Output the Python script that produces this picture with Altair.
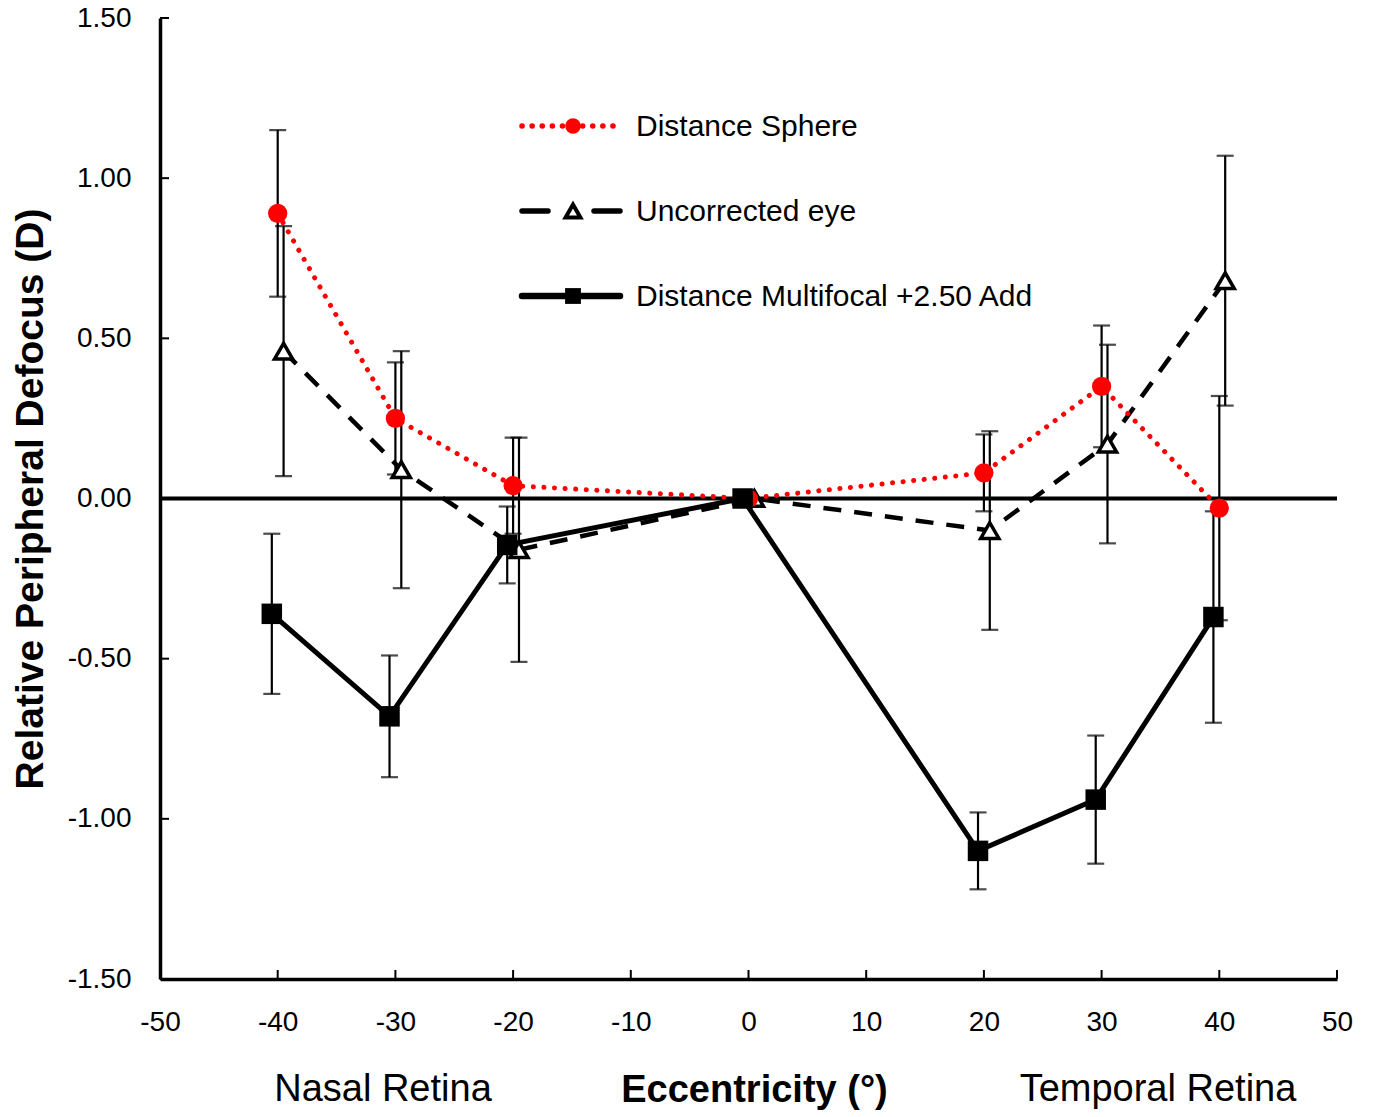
import altair as alt
import pandas as pd

# ---------------- data ----------------
ecc = [-40, -30, -20, 0, 20, 30, 40]

sphere = [0.89, 0.25, 0.04, 0.0, 0.08, 0.35, -0.03]
sphere_err = [0.26, 0.175, 0.15, 0.0, 0.12, 0.19, 0.35]

uncorr = [0.46, 0.09, -0.16, 0.0, -0.10, 0.17, 0.68]
uncorr_err = [0.39, 0.37, 0.35, 0.0, 0.31, 0.31, 0.39]

multi = [-0.36, -0.68, -0.145, 0.0, -1.10, -0.94, -0.37]
multi_err = [0.25, 0.19, 0.12, 0.0, 0.12, 0.20, 0.33]

series_names = ["Distance Sphere", "Uncorrected eye", "Distance Multifocal +2.50 Add"]
series_shift = [0.0, 0.5, -0.5]  # small horizontal offsets of each series as plotted

yticks = [-1.5, -1.0, -0.5, 0.0, 0.5, 1.0, 1.5]
xticks = [-50, -40, -30, -20, -10, 0, 10, 20, 30, 40, 50]

y_title = "Relative Peripheral Defocus (D)"
x_title = "Eccentricity (°)"
side_labels = ["Nasal Retina", "Temporal Retina"]

# ---------------- table ----------------
rows = []
for name, vals, errs, sh in zip(series_names, [sphere, uncorr, multi],
                                [sphere_err, uncorr_err, multi_err], series_shift):
    for e, v, er in zip(ecc, vals, errs):
        rows.append(dict(series=name, ecc=e, x=e + sh, y=v, lo=v - er, hi=v + er, err=er))
df = pd.DataFrame(rows)

FONT = "Liberation Sans"
W, H = 1177, 961

xscale = alt.Scale(domain=[-50, 50], nice=False, zero=False)
yscale = alt.Scale(domain=[-1.5, 1.5], nice=False, zero=False)

xaxis = alt.Axis(
    values=xticks, labelExpr="(datum.value < 0 ? '-' : '') + format(abs(datum.value), 'd')",
    title=x_title, titleFont=FONT, titleFontSize=38, titleFontWeight="bold", titleColor="black",
    titleX=594, titleY=111, titleBaseline="middle", titleAlign="center",
    labelFont=FONT, labelFontSize=28, labelColor="black", labelPadding=29,
    ticks=False, grid=False, domainColor="black", domainWidth=3.5, labelFlush=False,
)
yaxis = alt.Axis(
    values=yticks, labelExpr="(datum.value < 0 ? '-' : '') + format(abs(datum.value), '.2f')",
    title=y_title, titleFont=FONT, titleFontSize=39, titleFontWeight="bold", titleColor="black",
    titleX=-130, titleY=480.5, titleAngle=270, titleBaseline="middle", titleAlign="center",
    labelFont=FONT, labelFontSize=28, labelColor="black", labelPadding=29,
    ticks=False, grid=False, domainColor="black", domainWidth=3.5, labelFlush=False,
)


def X(field):
    return alt.X(f"{field}:Q", scale=xscale, axis=xaxis)


def Y(field):
    return alt.Y(f"{field}:Q", scale=yscale, axis=yaxis)


base = alt.Chart(df)
eb = base.transform_filter("datum.err > 0")

err_rule = eb.mark_rule(color="black", strokeWidth=2.2).encode(x=X("x"), y=Y("lo"), y2="hi:Q")
cap_lo = eb.mark_tick(color="black", orient="horizontal", size=17, thickness=2.2).encode(x=X("x"), y=Y("lo"))
cap_hi = eb.mark_tick(color="black", orient="horizontal", size=17, thickness=2.2).encode(x=X("x"), y=Y("hi"))

zero_line = alt.Chart(pd.DataFrame({"z": [0.0]})).mark_rule(color="black", strokeWidth=4).encode(y=Y("z"))

ytick_layer = alt.Chart(pd.DataFrame({"v": yticks})).mark_rule(color="black", strokeWidth=2).encode(
    y=Y("v"), x=alt.value(0), x2=alt.value(9))
xtick_layer = alt.Chart(pd.DataFrame({"v": xticks})).mark_rule(color="black", strokeWidth=2).encode(
    x=X("v"), y=alt.value(H), y2=alt.value(H - 9))


def sel(name):
    return base.transform_filter(alt.datum.series == name)


line_unc = sel(series_names[1]).mark_line(color="black", strokeWidth=4.5, strokeDash=[18, 13]).encode(
    x=X("x"), y=Y("y"), order="ecc:Q")
line_sph = sel(series_names[0]).mark_line(color="#FF0000", strokeWidth=5, strokeDash=[0.1, 10.5],
                                          strokeCap="round").encode(x=X("x"), y=Y("y"), order="ecc:Q")
line_mul = sel(series_names[2]).mark_line(color="black", strokeWidth=5).encode(
    x=X("x"), y=Y("y"), order="ecc:Q")

pt_unc = sel(series_names[1]).mark_point(shape="triangle-up", size=330, filled=True, fill="white",
                                         stroke="black", strokeWidth=3.5, opacity=1).encode(x=X("x"), y=Y("y"))
pt_sph = sel(series_names[0]).mark_point(shape="circle", size=370, filled=True, color="#FF0000",
                                         opacity=1).encode(x=X("x"), y=Y("y"))
pt_mul = sel(series_names[2]).mark_point(shape="square", size=420, filled=True, color="black",
                                         opacity=1).encode(x=X("x"), y=Y("y"))

# ---------------- legend (drawn inside the plot) ----------------
leg_y = [108, 193, 278]
lx0, lx1, lmk, ltx = 362, 460, 413, 476
one = pd.DataFrame({"k": [0]})

leg = []
leg.append(alt.Chart(one).mark_rule(color="#FF0000", strokeWidth=5.5, strokeDash=[0.1, 10], strokeCap="round").encode(
    x=alt.value(lx0), x2=alt.value(lx1), y=alt.value(leg_y[0])))
leg.append(alt.Chart(one).mark_point(shape="circle", size=240, filled=True, color="#FF0000", opacity=1).encode(
    x=alt.value(lmk), y=alt.value(leg_y[0])))
leg.append(alt.Chart(one).mark_rule(color="black", strokeWidth=5.5, strokeDash=[26, 46], strokeCap="round").encode(
    x=alt.value(lx0), x2=alt.value(lx1), y=alt.value(leg_y[1])))
leg.append(alt.Chart(one).mark_point(shape="triangle-up", size=220, filled=True, fill="white", stroke="black",
                                     strokeWidth=4, opacity=1).encode(x=alt.value(lmk), y=alt.value(leg_y[1])))
leg.append(alt.Chart(one).mark_rule(color="black", strokeWidth=6.5, strokeCap="round").encode(
    x=alt.value(lx0), x2=alt.value(lx1), y=alt.value(leg_y[2])))
leg.append(alt.Chart(one).mark_point(shape="square", size=250, filled=True, color="black", opacity=1).encode(
    x=alt.value(lmk), y=alt.value(leg_y[2])))
for name, yy in zip(series_names, leg_y):
    leg.append(alt.Chart(pd.DataFrame({"t": [name]})).mark_text(
        font=FONT, fontSize=30, color="black", align="left", baseline="middle").encode(
        text="t:N", x=alt.value(ltx), y=alt.value(yy + 1)))

# ---------------- side labels under the x axis ----------------
side = []
for lab, xx in zip(side_labels, [223, 998]):
    side.append(alt.Chart(pd.DataFrame({"t": [lab]})).mark_text(
        font=FONT, fontSize=38, color="black", align="center", baseline="middle").encode(
        text="t:N", x=alt.value(xx), y=alt.value(1072)))

chart = alt.layer(
    err_rule, cap_lo, cap_hi, zero_line, ytick_layer, xtick_layer,
    line_unc, line_sph, line_mul, pt_unc, pt_sph, pt_mul,
    *leg, *side,
).properties(
    width=W, height=H,
    padding={"left": 160, "top": 18, "right": 38, "bottom": 138},
    autosize=alt.AutoSizeParams(type="none"),
    background="white",
).configure_view(strokeWidth=0)

chart.save("out.html", embed_options={"renderer": "svg", "actions": False})
